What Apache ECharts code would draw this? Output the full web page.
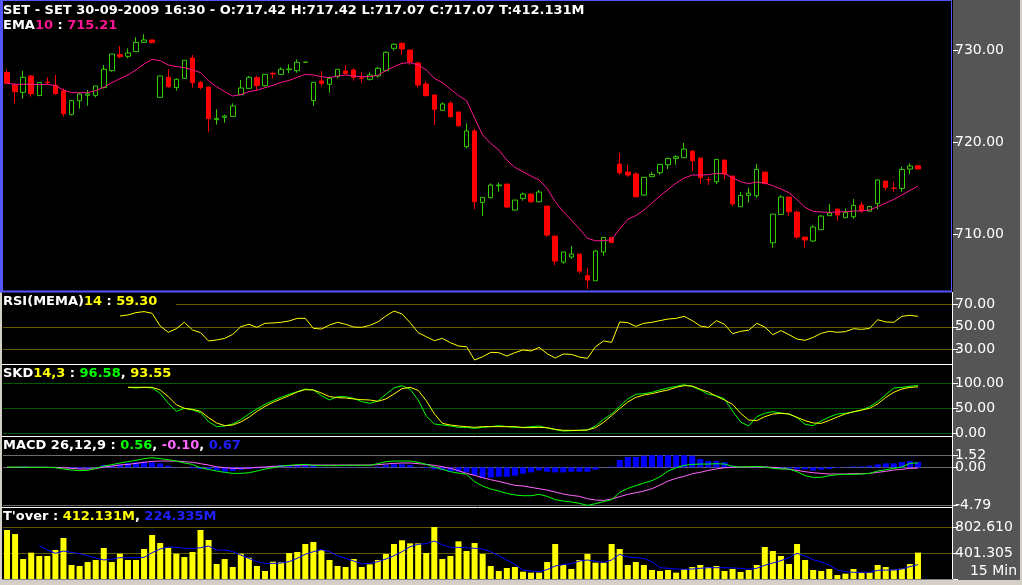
<!DOCTYPE html>
<html><head><meta charset="utf-8">
<script src="https://cdn.jsdelivr.net/npm/echarts@6/dist/echarts.min.js"></script>
<style>html,body{margin:0;padding:0;background:#d4d0c8;}#c{width:1022px;height:585px;}</style>
</head><body><div id="c"></div>
<script>
// ---- price candles (15 min bars) ----
const opens = [727.54,726.20,725.40,727.17,725.04,726.52,726.16,725.54,722.97,724.49,725.07,725.07,725.91,727.75,729.49,729.31,729.82,730.83,731.09,724.85,727.03,725.91,726.92,729.13,726.45,725.98,722.43,722.68,722.79,725.14,725.83,726.99,726.12,727.46,727.35,727.86,727.75,728.66,724.49,726.63,726.27,727.10,727.72,727.83,726.96,726.81,727.17,727.75,730.18,730.72,730.00,728.59,726.30,725.11,723.44,724.20,723.26,719.49,721.20,713.44,713.95,715.25,715.43,712.60,713.87,714.34,713.51,713.04,709.78,706.95,707.50,707.82,705.47,704.92,708.04,709.63,717.60,716.73,716.52,714.24,716.23,716.66,717.53,718.22,718.29,719.00,718.26,715.92,715.68,718.04,716.30,712.97,714.20,714.16,716.73,709.05,712.13,714.02,712.39,709.67,709.24,710.47,711.99,712.71,711.77,711.88,713.15,712.50,713.33,715.76,714.99,714.96,717.06,717.42];
const closes = [726.38,725.47,727.03,725.25,726.48,726.45,725.25,723.08,724.49,725.22,725.22,726.09,727.90,729.56,729.27,729.67,730.83,731.09,730.80,727.17,726.01,726.81,728.88,726.45,725.91,722.54,722.57,722.83,723.91,725.87,727.03,726.12,727.35,727.39,727.90,727.93,728.66,728.68,726.48,726.38,726.92,727.90,727.43,727.03,726.92,727.28,728.01,729.75,730.62,730.11,728.73,726.19,725.04,723.55,724.13,722.75,721.77,721.20,713.51,713.98,715.32,715.32,712.93,713.69,714.34,713.51,714.56,709.89,707.06,708.04,707.82,705.97,705.00,708.15,709.63,709.09,716.66,716.41,714.05,716.16,716.48,717.57,718.22,718.40,719.23,717.97,716.12,715.90,718.11,716.52,713.29,714.20,714.45,717.02,715.50,712.17,714.02,712.42,709.67,709.34,710.76,711.95,712.28,712.06,712.35,713.11,712.50,713.00,715.87,715.07,714.96,717.02,717.39,717.07];
const lows = [726.30,724.20,724.71,724.93,725.04,726.20,725.14,722.75,722.90,723.62,723.95,724.85,725.83,727.64,729.09,729.09,729.82,730.83,730.69,724.85,725.91,725.58,726.92,725.91,725.72,721.12,721.88,722.10,722.79,725.14,725.83,725.65,726.01,726.92,727.28,727.46,727.54,728.66,723.95,726.12,725.36,726.92,727.35,726.67,726.45,726.67,726.99,727.75,729.93,729.46,728.37,725.91,724.93,721.85,723.44,722.68,721.67,719.31,712.71,711.95,713.87,714.60,712.86,712.53,713.62,713.40,713.51,709.71,706.63,706.77,707.31,705.69,704.02,704.92,707.64,708.98,716.41,716.19,713.95,714.16,716.23,716.45,717.06,717.53,718.29,716.84,715.43,715.32,715.43,715.97,713.04,712.97,713.40,713.95,715.39,708.51,712.13,711.99,709.49,708.51,709.16,710.47,711.99,711.45,711.77,711.66,712.31,712.42,712.68,714.78,714.60,714.60,716.48,717.07];
const highs = [727.83,726.38,727.72,727.28,726.48,727.03,727.28,725.83,724.56,725.36,725.65,726.09,728.37,729.56,730.43,730.18,731.38,731.70,731.09,727.17,727.90,726.92,728.88,729.46,726.63,725.98,723.55,722.97,724.20,726.74,727.17,727.17,727.35,727.64,728.12,728.44,728.98,728.68,726.48,727.72,727.10,727.90,728.37,728.01,727.57,727.57,728.19,729.82,730.72,730.83,730.00,728.73,726.56,725.11,724.31,724.46,723.26,722.03,721.41,713.98,715.50,715.58,715.43,713.69,714.49,714.42,714.78,713.04,709.78,708.04,708.69,707.82,706.30,708.26,709.63,709.63,718.80,717.50,716.73,716.16,716.73,717.57,718.33,718.58,719.89,719.13,718.26,716.19,718.11,718.04,716.30,714.56,715.03,717.60,716.73,712.17,714.23,714.02,712.53,709.67,710.97,712.06,713.26,712.71,712.79,713.80,713.47,713.00,715.94,715.76,715.65,717.31,717.68,717.42];
const ema10 = [726.38,726.27,726.27,726.27,726.23,726.27,726.12,725.65,725.36,725.36,725.36,725.58,725.94,726.45,726.88,727.28,727.83,728.48,728.98,728.84,728.37,728.19,728.08,727.83,727.54,726.63,726.01,725.47,725.00,725.14,725.47,725.62,725.90,726.16,726.48,726.70,727.03,727.35,727.28,727.10,726.99,727.17,727.28,727.17,727.10,727.10,727.25,727.75,728.19,728.55,728.62,728.37,727.83,726.92,726.45,725.75,725.05,724.50,722.60,720.76,719.85,719.13,718.04,717.24,716.77,716.30,715.87,714.96,713.51,712.43,711.52,710.58,709.53,709.27,709.27,709.38,710.56,711.60,712.00,712.60,713.37,714.13,714.85,715.54,716.08,716.41,716.41,716.45,716.59,716.55,716.12,715.68,715.47,715.65,715.54,715.25,714.89,714.49,713.73,712.89,712.46,712.39,712.35,712.39,712.42,712.50,712.53,712.60,712.97,713.37,713.76,714.23,714.74,715.21];
// ---- RSI(14) ----
const rsi = [null,null,null,null,null,null,null,null,null,null,null,null,null,null,59.6,60.5,62.6,63.5,62.0,50.7,45.1,48.3,54.0,47.2,44.8,37.4,38.3,39.7,43.3,50.1,52.2,49.5,53.1,53.4,54.0,55.2,57.5,57.5,48.6,48.0,51.6,54.0,52.2,49.8,49.5,51.3,54.3,59.6,64.0,61.4,53.7,44.8,41.2,37.7,39.7,35.9,32.9,32.3,20.5,23.4,27.3,27.0,24.0,27.0,29.4,28.5,31.7,26.1,22.3,25.8,25.5,23.1,22.0,32.3,37.4,36.2,54.3,53.7,50.4,53.1,54.0,55.5,56.9,57.5,59.3,55.5,50.7,49.5,55.5,52.2,43.9,46.0,46.9,53.1,49.8,43.0,46.6,43.0,39.1,38.0,40.6,44.2,46.0,45.1,45.7,48.3,47.7,48.6,56.3,54.3,54.0,59.3,60.2,59.30];
// ---- Slow stochastic 14,3 ----
const skdK = [null,null,null,null,null,null,null,null,null,null,null,null,null,null,null,92.7,91.3,92.7,91.3,80.6,60.4,44.3,50.3,47.0,41.6,23.5,13.4,14.7,18.8,27.5,38.9,49.0,58.4,65.8,72.5,78.6,83.9,89.3,87.3,75.9,67.1,73.9,73.9,70.5,63.8,60.4,65.1,78.6,91.3,96.0,88.7,67.1,34.9,18.8,16.7,14.7,12.0,12.0,10.0,12.0,13.4,15.4,13.4,12.0,12.0,13.4,14.7,10.7,7.3,4.6,5.3,6.0,6.7,14.7,28.2,38.9,54.4,69.2,78.6,79.9,82.6,87.3,91.3,94.7,98.0,94.0,87.3,78.6,75.9,69.2,45.0,22.8,14.7,33.5,40.3,43.6,40.9,38.9,31.5,18.1,15.4,24.8,32.9,38.9,40.3,42.9,46.3,53.7,63.8,77.9,91.3,92.7,94.7,96.58];
const skdD = [null,null,null,null,null,null,null,null,null,null,null,null,null,null,null,92.7,92.7,92.7,92.7,87.3,73.9,57.7,50.3,48.3,44.3,31.5,20.8,15.4,16.7,22.8,32.2,44.3,54.4,62.4,69.2,75.9,83.3,88.0,87.3,81.3,73.9,71.9,71.2,69.2,67.8,67.1,64.5,69.2,79.2,90.0,92.7,86.6,65.8,39.6,20.1,16.7,14.7,13.4,12.0,13.4,13.4,13.4,13.4,13.4,11.4,11.4,12.0,11.4,8.0,6.0,6.0,6.0,6.7,11.4,22.1,35.6,49.7,63.1,72.5,77.2,79.9,83.9,87.3,92.7,96.0,95.4,88.7,83.3,74.5,67.1,58.4,40.3,26.8,25.5,33.5,38.9,40.3,38.9,32.2,25.5,20.8,20.1,26.1,32.9,38.9,43.6,47.0,50.3,59.1,72.5,82.6,89.3,92.7,93.55];
// ---- MACD 26,12,9 ----
const macdLine = [0.02,0.03,0.02,0.00,0.00,-0.01,-0.05,-0.21,-0.34,-0.42,-0.38,-0.13,0.16,0.33,0.54,0.71,0.88,1.09,1.21,1.09,0.96,0.79,0.54,0.37,-0.05,-0.26,-0.47,-0.63,-0.76,-0.76,-0.68,-0.47,-0.21,-0.05,0.16,0.25,0.33,0.37,0.25,0.21,0.21,0.21,0.25,0.25,0.25,0.25,0.46,0.71,0.79,0.79,0.79,0.63,0.37,0.04,-0.26,-0.55,-0.72,-0.88,-1.81,-2.35,-2.73,-2.98,-3.28,-3.48,-3.57,-3.57,-3.40,-3.65,-4.07,-4.24,-4.36,-4.53,-4.79,-4.57,-4.32,-4.07,-3.15,-2.65,-2.31,-1.97,-1.68,-1.18,-0.47,-0.05,0.25,0.37,0.41,0.41,0.46,0.41,0.12,0.04,0.08,0.12,0.04,-0.13,-0.21,-0.21,-0.55,-1.05,-1.26,-1.26,-1.05,-0.93,-0.89,-0.89,-0.84,-0.76,-0.47,-0.30,-0.13,0.04,0.50,0.56];
const macdSignal = [0.00,0.00,0.00,0.00,0.00,0.00,-0.01,-0.05,-0.13,-0.21,-0.21,-0.17,0.04,0.16,0.29,0.37,0.50,0.63,0.75,0.79,0.79,0.79,0.71,0.63,0.46,0.29,0.08,-0.05,-0.13,-0.13,-0.09,0.00,0.04,0.12,0.16,0.21,0.25,0.29,0.29,0.29,0.29,0.29,0.29,0.29,0.29,0.29,0.33,0.42,0.50,0.54,0.54,0.46,0.37,0.25,0.08,-0.13,-0.42,-0.76,-1.01,-1.30,-1.56,-1.77,-2.02,-2.27,-2.35,-2.52,-2.69,-2.86,-3.11,-3.36,-3.53,-3.65,-3.95,-4.11,-4.16,-3.99,-3.69,-3.40,-3.19,-2.98,-2.69,-2.23,-1.72,-1.39,-1.14,-0.80,-0.63,-0.38,-0.21,-0.05,0.00,0.04,0.04,0.04,0.04,0.00,-0.09,-0.26,-0.38,-0.55,-0.68,-0.76,-0.84,-0.84,-0.84,-0.80,-0.80,-0.76,-0.63,-0.51,-0.34,-0.26,-0.13,-0.10];
const macdHist = [0,0,0.10,0,0,0,0,-0.05,-0.13,-0.20,-0.20,0.03,0.30,0.20,0.38,0.55,0.63,0.71,0.63,0.50,0.20,0.02,0,-0.13,-0.21,-0.30,-0.38,-0.55,-0.47,-0.30,-0.21,-0.13,0.08,0.17,0.29,0.21,0.29,0.29,0.25,0.05,0.03,0.03,0.05,0.04,0.03,0.03,0.10,0.29,0.38,0.38,0.29,0.05,-0.10,-0.25,-0.34,-0.55,-0.55,-0.63,-0.97,-1.30,-1.30,-1.18,-1.18,-1.05,-0.80,-0.63,-0.38,-0.55,-0.63,-0.63,-0.55,-0.55,-0.55,-0.30,0.02,0.08,0.92,1.30,1.30,1.46,1.52,1.52,1.52,1.52,1.52,1.46,1.04,0.79,0.79,0.63,0.21,0.08,0.04,0.12,0.08,-0.13,-0.13,-0.17,-0.25,-0.25,-0.42,-0.30,-0.21,-0.09,0.04,0.12,0.12,0.21,0.37,0.50,0.50,0.67,0.79,0.67];
// ---- Turnover (million) ----
const turnover = [765,702,312,411,359,359,453,640,219,203,265,297,484,265,395,297,297,468,687,562,489,395,343,422,765,609,234,312,187,395,333,203,125,270,265,406,422,547,578,453,297,203,187,312,187,229,297,390,547,604,557,557,406,812,312,359,588,437,562,390,203,125,172,187,114,99,99,265,547,219,156,297,390,255,255,547,468,219,265,219,141,125,141,99,156,187,219,187,203,125,156,109,141,219,500,437,359,234,547,297,141,125,156,62,83,156,99,99,219,187,146,161,234,412.131];
const turnoverMA = [null,null,null,null,515,453,401,437,416,396,364,328,297,312,333,333,333,338,411,468,500,494,479,474,489,515,453,453,427,375,323,271,244,244,250,271,323,385,427,458,427,364,323,281,239,244,271,312,364,427,505,541,552,593,536,494,494,489,479,468,427,364,297,229,140,125,114,146,203,224,239,281,297,276,260,297,385,344,333,323,271,177,167,156,151,156,167,177,177,177,172,167,151,167,214,250,286,333,401,359,302,265,219,140,114,104,104,104,135,140,140,156,193,224.335];
// ---- axis tick values ----
const priceTicks = [710, 720, 730];
const rsiTicks = [30, 50, 70];
const skdTicks = [0, 50, 100];
const macdTicks = [-4.79, 0, 1.52];
const volTicks = [401.305, 802.61];

const categories = opens.map((_, i) => String(i + 1));
const candles = opens.map((o, i) => [o, closes[i], lows[i], highs[i]]);

const FONT = 'DejaVu Sans';
const GL = 3, GW = 919, AXOFF = 31;
const grids = [
  {left: GL, width: GW, top: 0, height: 292},
  {left: GL, width: GW, top: 292, height: 72},
  {left: GL, width: GW, top: 364, height: 72},
  {left: GL, width: GW, top: 436, height: 71},
  {left: GL, width: GW, top: 507, height: 72}
];
const xAxes = grids.map((g, k) => ({type: 'category', gridIndex: k, data: categories, boundaryGap: true, show: false}));
function yAx(k, min, max, ticks, fmt, tickVals, extra) {
  return {
    type: 'value', gridIndex: k, position: 'right', offset: AXOFF, min: min, max: max,
    axisLine: {show: false}, splitLine: {show: false},
    axisTick: {show: true, length: 5, lineStyle: {color: '#ffffff'}, customValues: tickVals || ticks},
    axisLabel: Object.assign({show: true, color: '#ffffff', fontFamily: FONT, fontSize: 14, margin: 2,
      hideOverlap: false, showMinLabel: true, showMaxLabel: true, customValues: ticks, formatter: fmt}, extra || {})
  };
}
const f2 = v => Number(v).toFixed(2);
const MACD_MIN = -4.99, MACD_MAX = 3.94;
const yAxes = [
  yAx(0, 703.70, 735.43, priceTicks, f2),
  yAx(1, 16.93, 80.93, rsiTicks, f2),
  yAx(2, -5.44, 139.7, skdTicks, f2),
  yAx(3, MACD_MIN, MACD_MAX, macdTicks.filter(v => v <= 0), f2),
  yAx(4, 0, 1124.3, volTicks, v => Number(v).toFixed(3) + 'M', [0].concat(volTicks),
      {width: 64, overflow: 'truncate', ellipsis: ''}),
  yAx(3, MACD_MIN, MACD_MAX, macdTicks.filter(v => v > 0), f2)
];
function gridLines(vals, color, x0) {
  return {
    silent: true, symbol: 'none', z: 1, animation: false,
    label: {show: false},
    lineStyle: {color: color, type: 'solid', width: 1},
    emphasis: {disabled: true},
    data: vals.map((v, j) => [{x: (x0 && x0[j]) || 3, yAxis: v}, {x: 952, yAxis: v}])
  };
}
const lineBase = {type: 'line', symbol: 'none', smooth: false, animation: false, connectNulls: false};

const TS = 13;
const rich = {
  w: {color: '#ffffff', fontFamily: FONT, fontSize: TS},
  m: {color: '#ff1493', fontFamily: FONT, fontSize: TS},
  y: {color: '#ffff00', fontFamily: FONT, fontSize: TS},
  g: {color: '#00ff00', fontFamily: FONT, fontSize: TS},
  p: {color: '#ff66ff', fontFamily: FONT, fontSize: TS},
  b: {color: '#2020ff', fontFamily: FONT, fontSize: TS}
};
function ttl(text, left, top) {
  return {text: text, left: left, top: top, padding: 0, itemGap: 0, textStyle: {rich: rich, fontFamily: FONT, fontSize: TS, lineHeight: 16}};
}

const option = {
  animation: false,
  backgroundColor: '#d4d0c8',
  graphic: [
    {type: 'rect', z: -10, silent: true, shape: {x: 0, y: 0, width: 1020, height: 580}, style: {fill: '#555555'}},
    {type: 'rect', z: -9, silent: true, shape: {x: 0, y: 0, width: 953, height: 580}, style: {fill: '#000000'}},
    {type: 'rect', z: -8, silent: true, shape: {x: 0, y: 0, width: 3, height: 292}, style: {fill: '#5555ff'}},
    {type: 'rect', z: -8, silent: true, shape: {x: 0, y: 292, width: 2, height: 288}, style: {fill: '#d4d0c8'}},
    {type: 'line', z: -8, silent: true, shape: {x1: 0, y1: 0.5, x2: 952, y2: 0.5}, style: {stroke: '#5555ff', lineWidth: 1}},
    {type: 'line', z: -8, silent: true, shape: {x1: 0, y1: 291.5, x2: 952, y2: 291.5}, style: {stroke: '#5555ff', lineWidth: 2}},
    {type: 'line', z: -8, silent: true, shape: {x1: 951.5, y1: 0, x2: 951.5, y2: 292}, style: {stroke: '#5555ff', lineWidth: 1}},
    {type: 'line', z: -8, silent: true, shape: {x1: 952.5, y1: 292, x2: 952.5, y2: 580}, style: {stroke: '#ffffff', lineWidth: 1}},
    {type: 'line', z: -8, silent: true, shape: {x1: 2, y1: 364.5, x2: 953, y2: 364.5}, style: {stroke: '#ffffff', lineWidth: 1}},
    {type: 'line', z: -8, silent: true, shape: {x1: 2, y1: 436.5, x2: 953, y2: 436.5}, style: {stroke: '#ffffff', lineWidth: 1}},
    {type: 'line', z: -8, silent: true, shape: {x1: 2, y1: 507.5, x2: 953, y2: 507.5}, style: {stroke: '#ffffff', lineWidth: 1}},
    {type: 'line', z: -8, silent: true, shape: {x1: 2, y1: 579.5, x2: 953, y2: 579.5}, style: {stroke: '#808080', lineWidth: 1}}
  ],
  title: [
    ttl('{w|SET - SET 30-09-2009 16:30 - O:717.42 H:717.42 L:717.07 C:717.07 T:412.131M}', 3, 3),
    ttl('{w|EMA}{m|10}{w| : }{m|715.21}', 3, 18),
    ttl('{w|RSI(MEMA)}{y|14}{w| : }{y|59.30}', 3, 294),
    ttl('{w|SKD}{y|14,3}{w| : }{g|96.58}{w|, }{y|93.55}', 3, 366),
    ttl('{w|MACD 26,12,9 : }{g|0.56}{w|, }{p|-0.10}{w|, }{b|0.67}', 3, 438),
    ttl("{w|T'over : }{y|412.131M}{w|, }{b|224.335M}", 3, 509),
    {text: '15 Min', right: 5, top: 564, padding: 0, textStyle: {color: '#ffffff', fontFamily: FONT, fontSize: 14, fontWeight: 'normal'}}
  ],
  grid: grids,
  xAxis: xAxes,
  yAxis: yAxes,
  series: [
    {type: 'candlestick', xAxisIndex: 0, yAxisIndex: 0, data: candles, barWidth: 5, animation: false,
     itemStyle: {color: '#000000', color0: '#ff0000', borderColor: '#33cc00', borderColor0: '#ff0000', borderWidth: 1}},
    Object.assign({}, lineBase, {name: 'EMA10', xAxisIndex: 0, yAxisIndex: 0, data: ema10, lineStyle: {color: '#ff1493', width: 1}}),
    Object.assign({}, lineBase, {name: 'RSI', xAxisIndex: 1, yAxisIndex: 1, data: rsi, lineStyle: {color: '#ffff00', width: 1},
      markLine: gridLines(rsiTicks, '#675d00', [3, 3, 176])}),
    Object.assign({}, lineBase, {name: 'K', xAxisIndex: 2, yAxisIndex: 2, data: skdK, lineStyle: {color: '#00ff00', width: 1},
      markLine: gridLines(skdTicks, '#005c00')}),
    Object.assign({}, lineBase, {name: 'D', xAxisIndex: 2, yAxisIndex: 2, data: skdD, lineStyle: {color: '#ffff00', width: 1}}),
    {type: 'bar', name: 'Hist', xAxisIndex: 3, yAxisIndex: 3, data: macdHist, barWidth: 6, itemStyle: {color: '#0000ff'}, animation: false,
      markLine: gridLines(macdTicks, '#6a6a6a')},
    Object.assign({}, lineBase, {name: 'Signal', xAxisIndex: 3, yAxisIndex: 3, data: macdSignal, lineStyle: {color: '#ff66ff', width: 1}}),
    Object.assign({}, lineBase, {name: 'MACD', xAxisIndex: 3, yAxisIndex: 3, data: macdLine, lineStyle: {color: '#00ff00', width: 1}}),
    {type: 'bar', name: 'Turnover', xAxisIndex: 4, yAxisIndex: 4, data: turnover, barWidth: 6, itemStyle: {color: '#ffff00'}, animation: false,
      markLine: gridLines(volTicks, '#5f5a00')},
    Object.assign({}, lineBase, {name: 'TurnoverMA', xAxisIndex: 4, yAxisIndex: 4, data: turnoverMA, lineStyle: {color: '#0000ff', width: 1}})
  ]
};
const chart = echarts.init(document.getElementById('c'), null, {renderer: 'canvas'});
chart.setOption(option);
</script>
</body></html>
